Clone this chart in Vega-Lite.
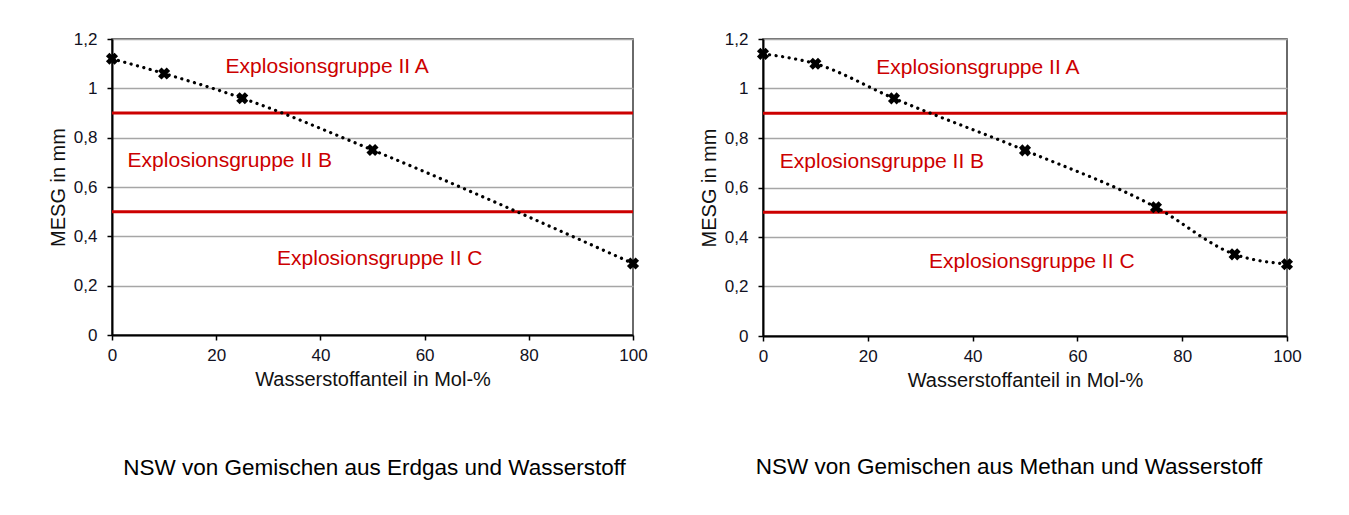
{
  "$schema": "https://vega.github.io/schema/vega-lite/v6.json",
  "background": "white",
  "padding": {"left": 47, "top": 29, "right": 5, "bottom": 5},
  "bounds": "flush",
  "spacing": 130,
  "datasets": {
    "erdgas": [
      {"h2": 0, "mesg": 1.12},
      {"h2": 10, "mesg": 1.06},
      {"h2": 25, "mesg": 0.96},
      {"h2": 50, "mesg": 0.75},
      {"h2": 100, "mesg": 0.29}
    ],
    "methan": [
      {"h2": 0, "mesg": 1.14},
      {"h2": 10, "mesg": 1.10},
      {"h2": 25, "mesg": 0.96},
      {"h2": 50, "mesg": 0.75},
      {"h2": 75, "mesg": 0.52},
      {"h2": 90, "mesg": 0.33},
      {"h2": 100, "mesg": 0.29}
    ],
    "grenzen": [
      {"grenze": 0.9},
      {"grenze": 0.5}
    ],
    "labels_l": [
      {"x": 41.3, "y": 1.086, "label": "Explosionsgruppe II A"},
      {"x": 22.6, "y": 0.705, "label": "Explosionsgruppe II B"},
      {"x": 51.4, "y": 0.308, "label": "Explosionsgruppe II C"}
    ],
    "labels_r": [
      {"x": 41.0, "y": 1.083, "label": "Explosionsgruppe II A"},
      {"x": 22.7, "y": 0.703, "label": "Explosionsgruppe II B"},
      {"x": 51.3, "y": 0.299, "label": "Explosionsgruppe II C"}
    ]
  },
  "hconcat": [
    {
      "width": 521,
      "height": 296,
      "title": {"text": "NSW von Gemischen aus Erdgas und Wasserstoff", "orient": "bottom", "offset": 68, "anchor": "middle", "dx": 2},
      "layer": [
        {
          "data": {"name": "grenzen"},
          "mark": {"type": "rule", "color": "#cc0000", "strokeWidth": 3},
          "encoding": {
            "y": {"field": "grenze", "type": "quantitative", "scale": {"domain": [0, 1.2], "nice": false, "zero": true},
              "axis": {"title": "MESG in mm", "values": [0, 0.2, 0.4, 0.6, 0.8, 1, 1.2], "labelExpr": "replace(format(datum.value, '~g'), '.', ',')"}}
          }
        },
        {
          "data": {"name": "erdgas"},
          "mark": {"type": "line", "color": "black", "strokeWidth": 3.2, "strokeDash": [0.1, 6.5], "strokeCap": "round", "interpolate": "monotone"},
          "encoding": {
            "x": {"field": "h2", "type": "quantitative", "scale": {"domain": [0, 100], "nice": false},
              "axis": {"title": "Wasserstoffanteil in Mol-%", "values": [0, 20, 40, 60, 80, 100]}},
            "y": {"field": "mesg", "type": "quantitative"}
          }
        },
        {
          "data": {"name": "erdgas"},
          "mark": {"type": "point", "shape": "cross", "angle": 45, "filled": true, "color": "black", "size": 150, "opacity": 1},
          "encoding": {
            "x": {"field": "h2", "type": "quantitative"},
            "y": {"field": "mesg", "type": "quantitative"}
          }
        },
        {
          "data": {"name": "labels_l"},
          "mark": {"type": "text", "color": "#cc0000", "fontSize": 21, "font": "Liberation Sans", "align": "center", "baseline": "middle"},
          "encoding": {
            "x": {"field": "x", "type": "quantitative"},
            "y": {"field": "y", "type": "quantitative"},
            "text": {"field": "label"}
          }
        }
      ]
    },
    {
      "width": 524,
      "height": 297,
      "title": {"text": "NSW von Gemischen aus Methan und Wasserstoff", "orient": "bottom", "offset": 66, "anchor": "middle", "dx": -16},
      "layer": [
        {
          "data": {"name": "grenzen"},
          "mark": {"type": "rule", "color": "#cc0000", "strokeWidth": 3},
          "encoding": {
            "y": {"field": "grenze", "type": "quantitative", "scale": {"domain": [0, 1.2], "nice": false, "zero": true},
              "axis": {"title": "MESG in mm", "values": [0, 0.2, 0.4, 0.6, 0.8, 1, 1.2], "labelExpr": "replace(format(datum.value, '~g'), '.', ',')"}}
          }
        },
        {
          "data": {"name": "methan"},
          "mark": {"type": "line", "color": "black", "strokeWidth": 3.2, "strokeDash": [0.1, 6.5], "strokeCap": "round", "interpolate": "monotone"},
          "encoding": {
            "x": {"field": "h2", "type": "quantitative", "scale": {"domain": [0, 100], "nice": false},
              "axis": {"title": "Wasserstoffanteil in Mol-%", "values": [0, 20, 40, 60, 80, 100]}},
            "y": {"field": "mesg", "type": "quantitative"}
          }
        },
        {
          "data": {"name": "methan"},
          "mark": {"type": "point", "shape": "cross", "angle": 45, "filled": true, "color": "black", "size": 150, "opacity": 1},
          "encoding": {
            "x": {"field": "h2", "type": "quantitative"},
            "y": {"field": "mesg", "type": "quantitative"}
          }
        },
        {
          "data": {"name": "labels_r"},
          "mark": {"type": "text", "color": "#cc0000", "fontSize": 21, "font": "Liberation Sans", "align": "center", "baseline": "middle"},
          "encoding": {
            "x": {"field": "x", "type": "quantitative"},
            "y": {"field": "y", "type": "quantitative"},
            "text": {"field": "label"}
          }
        }
      ]
    }
  ],
  "config": {
    "font": "Liberation Sans",
    "view": {"stroke": "#3a3a3a", "strokeWidth": 1.5},
    "title": {"font": "Liberation Sans", "fontSize": 22.5, "fontWeight": "normal", "color": "black"},
    "axis": {
      "labelFont": "Liberation Sans",
      "labelFontSize": 17,
      "labelColor": "#111122",
      "titleFont": "Liberation Sans",
      "titleFontSize": 20,
      "titleFontWeight": "normal",
      "titleColor": "#111111",
      "domainColor": "black",
      "domainWidth": 2,
      "tickColor": "black",
      "tickWidth": 1.5,
      "tickSize": 5,
      "gridColor": "#a6a6a6",
      "gridWidth": 1.5,
      "labelPadding": 7,
      "labelFlush": false,
      "labelOverlap": false
    },
    "axisX": {"grid": false, "titlePadding": 6},
    "axisY": {"grid": true, "titlePadding": 5, "labelPadding": 10}
  }
}
